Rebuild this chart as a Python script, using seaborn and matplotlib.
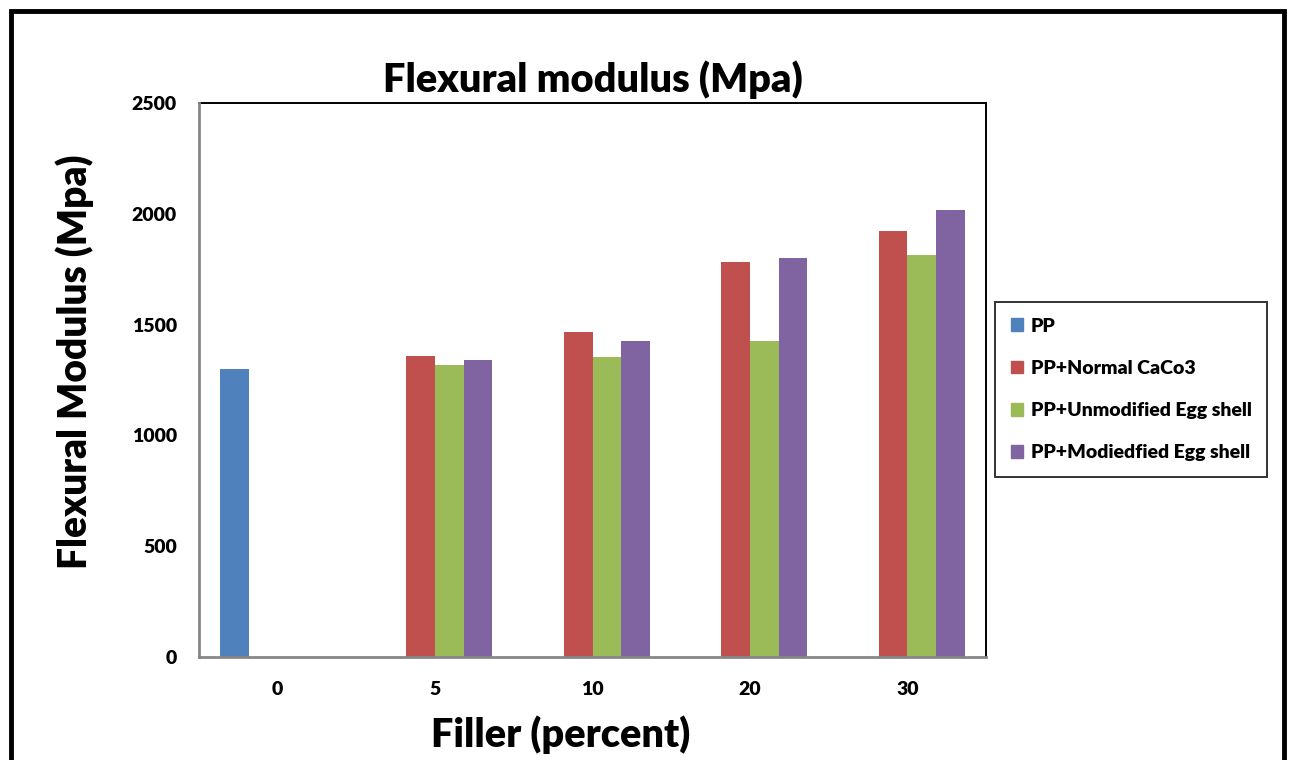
import matplotlib
matplotlib.use("Agg")
import matplotlib.pyplot as plt
import seaborn as sns
import pandas as pd
import numpy as np
from matplotlib.patches import Rectangle

# Data
fillers = ["0", "5", "10", "20", "30"]
series = ["PP", "PP+Normal CaCo3", "PP+Unmodified Egg shell", "PP+Modiedfied Egg shell"]
pp = [1300, 0, 0, 0, 0]
pp_caco3 = [0, 1358, 1467, 1782, 1922]
pp_unmod_egg = [0, 1318, 1354, 1426, 1814]
pp_mod_egg = [0, 1340, 1426, 1800, 2017]
colors = ["#4F81BD", "#C0504D", "#9BBB59", "#8064A2"]

rows = []
for name, vals in zip(series, [pp, pp_caco3, pp_unmod_egg, pp_mod_egg]):
    for f, v in zip(fillers, vals):
        rows.append({"Filler": f, "Series": name, "Value": v})
df = pd.DataFrame(rows)

sns.set_style("white")
WEIGHT = "heavy"
plt.rcParams["font.family"] = ["Lato", "DejaVu Sans"]
plt.rcParams["font.weight"] = WEIGHT
plt.rcParams["text.color"] = "black"
plt.rcParams["axes.labelcolor"] = "black"
plt.rcParams["xtick.color"] = "black"
plt.rcParams["ytick.color"] = "black"

fig = plt.figure(figsize=(12.9, 7.6), dpi=100)
ax = fig.add_axes([199 / 1290, (760 - 657) / 760, (986 - 199) / 1290, (657 - 103) / 760])

sns.barplot(data=df, x="Filler", y="Value", hue="Series", order=fillers,
            hue_order=series, palette=colors, width=4 / 5.5, linewidth=0,
            saturation=1, ax=ax)

ax.set_xlim(-0.5, len(fillers) - 0.5)
ax.set_ylim(0, 2500)
ax.set_yticks([0, 500, 1000, 1500, 2000, 2500])
ax.set_yticklabels(["0", "500", "1000", "1500", "2000", "2500"],
                   fontsize=14, fontweight=WEIGHT)
ax.set_xticks(range(len(fillers)))
ax.set_xticklabels(fillers, fontsize=14, fontweight=WEIGHT)
ax.set_xticks(np.arange(-0.5, len(fillers), 1.0), minor=True)
ax.tick_params(axis="x", which="major", length=0, pad=17)
ax.tick_params(axis="x", which="minor", length=6, width=1.3, color="#868686",
               direction="out")
ax.tick_params(axis="y", which="major", length=6, width=1.3, color="#868686",
               direction="out", pad=10)

for side in ["top", "right"]:
    ax.spines[side].set_color("black")
    ax.spines[side].set_linewidth(1.4)
for side in ["left", "bottom"]:
    ax.spines[side].set_color("#868686")
    ax.spines[side].set_linewidth(2.0)
    ax.spines[side].set_zorder(5)

ax.set_title("Flexural modulus (Mpa)", fontsize=28.6, fontweight=WEIGHT, pad=8)
ax.set_xlabel("Filler (percent)", fontsize=28.5, fontweight=WEIGHT, labelpad=4)
ax.xaxis.set_label_coords((561 - 199) / 787, -0.105)
ax.set_ylabel("Flexural Modulus (Mpa)", fontsize=28, fontweight=WEIGHT)
ax.yaxis.set_label_coords(-0.133, (657 - 362) / 554)

ax.get_legend().remove()
handles = [Rectangle((0, 0), 1, 1, color=c) for c in colors]
leg = fig.legend(handles, series, loc="upper left",
                 bbox_to_anchor=(995 / 1290, (760 - 302) / 760),
                 frameon=True, fancybox=False, edgecolor="black",
                 prop={"size": 14, "weight": WEIGHT},
                 handlelength=0.65, handleheight=0.65, handletextpad=0.4,
                 labelspacing=1.3, borderpad=0.8, borderaxespad=0)
leg.get_frame().set_linewidth(1.4)

# Outer chart frame
fig.patches.append(Rectangle((11 / 1290, -0.05), (1284 - 11) / 1290, (760 - 11) / 760 + 0.05,
                             transform=fig.transFigure, fill=False,
                             edgecolor="black", linewidth=3.5, zorder=10))

fig.savefig("out.png", dpi=100)
